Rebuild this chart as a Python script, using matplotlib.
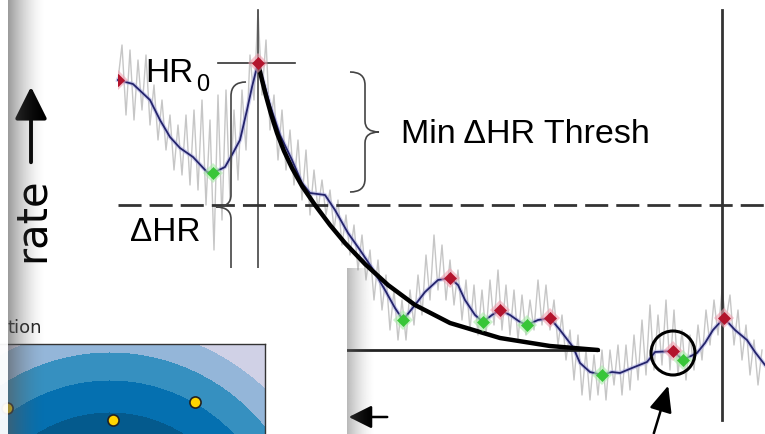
import numpy as np
import matplotlib
matplotlib.use("Agg")
import matplotlib.pyplot as plt
from matplotlib.patches import Rectangle, PathPatch, Circle
from matplotlib.path import Path

W, H = 765, 434

# ── data (pixel-like units, y down) ──────────────────────────
raw_x = np.arange(118, 763, 4)
raw_y = [80, 45, 115, 50, 120, 60, 110, 55, 125, 85,
         140, 100, 150, 115, 170, 125, 175, 115, 185, 110,
         190, 100, 205, 120, 250, 95, 220, 90, 200, 110,
         180, 90, 150, 55, 100, 10, 95, 40, 130, 95,
         160, 110, 170, 130, 185, 140, 200, 150, 215, 170,
         210, 180, 215, 190, 230, 200, 245, 215, 255, 225,
         270, 235, 280, 250, 300, 260, 310, 275, 330, 290,
         340, 300, 340, 290, 325, 275, 315, 255, 300, 235,
         290, 245, 300, 260, 305, 270, 320, 280, 330, 285,
         335, 290, 335, 280, 325, 270, 330, 285, 335, 290,
         340, 295, 335, 300, 330, 280, 325, 285, 330, 300,
         345, 315, 360, 330, 380, 335, 395, 350, 400, 355,
         395, 350, 400, 350, 385, 345, 395, 345, 390, 335,
         380, 320, 375, 305, 370, 315, 365, 300, 370, 310,
         375, 330, 380, 335, 370, 325, 360, 310, 345, 300,
         335, 290, 320, 295, 345, 310, 360, 325, 375, 340,
         385, 350]

smooth_x = [118, 133, 150, 160, 170, 180, 193, 207, 213, 225, 233, 240, 247, 252, 258,
            263, 270, 280, 292, 302, 310, 325, 335, 348, 360, 372, 385, 395, 403,
            415, 425, 438, 450, 458, 465, 475, 483, 492, 500, 510, 520, 527, 538, 550,
            560, 573, 580, 590, 602, 612, 620, 632, 647, 655, 673, 683, 697, 705, 713, 724,
            735, 747, 755, 765]
smooth_y = [80, 84, 100, 120, 137, 148, 157, 172, 173, 167, 153, 140, 110, 87, 63,
            80, 105, 135, 160, 183, 193, 195, 210, 233, 250, 268, 290, 308, 320,
            305, 292, 280, 278, 285, 300, 315, 322, 315, 310, 315, 322, 325, 320, 318,
            330, 347, 363, 372, 375, 372, 373, 368, 362, 352, 351, 360, 353, 343, 330, 318,
            330, 340, 352, 365]

peak_x = [118, 258, 450, 500, 550, 673, 724]
peak_y = [80, 63, 278, 310, 318, 351, 318]
trough_x = [213, 403, 483, 527, 602, 683]
trough_y = [173, 320, 322, 325, 375, 360]

decay_x = [258, 262, 266, 271, 277, 284, 292, 302, 315, 330, 345, 365, 388, 415, 450, 500, 550, 598]
decay_y = [63, 80, 96, 114, 133, 151, 168, 186, 205, 225, 243, 264, 285, 305, 323, 338, 346, 350]

hr0_y = 63
thresh_y = 205
floor_y = 350
onset_x = 258
next_x = 722

# inset contour panel
ring_center = (110, 552)
ring_levels = [0, 140, 172, 200, 226, 2000]
ring_colors = ["#045a8d", "#0570b0", "#3690c0", "#94b6d9", "#d0d1e6"]
dot_x = [195, 113, 7]
dot_y = [402, 420, 408]

LABEL_FONT = ["Liberation Sans", "DejaVu Sans"]

# ── figure ───────────────────────────────────────────────────
fig = plt.figure(figsize=(W / 100, H / 100), dpi=100)
fig.patch.set_facecolor("white")
ax = fig.add_axes([0, 0, 1, 1])
ax.set_xlim(0, W)
ax.set_ylim(H, 0)
ax.axis("off")

ax.plot(raw_x, raw_y, color="#c6c6c6", lw=1.0, zorder=1)
ax.plot(smooth_x, smooth_y, color="#a8a8e0", lw=3.0, alpha=0.55, zorder=2)
ax.plot(smooth_x, smooth_y, color="#23236b", lw=1.3, zorder=3)

# reference lines
ax.plot([218, 295], [hr0_y, hr0_y], color="#333333", lw=1.2, zorder=4)
ax.plot([onset_x, onset_x], [10, 300], color="#444444", lw=1.2, zorder=4)
ax.plot([next_x, next_x], [10, 420], color="#333333", lw=2.0, zorder=4)
ax.plot([118, W], [thresh_y, thresh_y], color="#333333", lw=2.0,
        dashes=(8.3, 2.9), zorder=4)
ax.plot([300, 598], [floor_y, floor_y], color="#222222", lw=2.0, zorder=4)

ax.plot(decay_x, decay_y, color="black", lw=3.2, solid_capstyle="round", zorder=5)

clip = Rectangle((118, 0), W, H, transform=ax.transData)
for xs, ys, core, halo in [(peak_x, peak_y, "#b3142d", "#f0a0b0"),
                           (trough_x, trough_y, "#38c638", "#a8eca8")]:
    h, = ax.plot(xs, ys, "D", ms=10, color=halo, alpha=0.6, mew=0, zorder=6)
    c, = ax.plot(xs, ys, "D", ms=6, mfc=core, mec=core, mew=0.5, zorder=7)
    h.set_clip_path(clip)
    c.set_clip_path(clip)

# braces
MV, C3, LN = Path.MOVETO, Path.CURVE3, Path.LINETO
right_brace = Path([(350, 72), (365, 72), (365, 85), (365, 121),
                    (365, 132), (379, 132), (365, 132), (365, 143),
                    (365, 179), (365, 192), (350, 192)],
                   [MV, C3, C3, LN, C3, C3, C3, C3, LN, C3, C3])
left_brace = Path([(246, 82), (231, 82), (231, 96), (231, 195),
                   (231, 207), (216, 207), (231, 207), (231, 219),
                   (231, 300)],
                  [MV, C3, C3, LN, C3, C3, C3, C3, LN])
for p in (right_brace, left_brace):
    ax.add_patch(PathPatch(p, fill=False, lw=1.2, ec="#444444", zorder=4))

# labels
ax.text(145, 82, "HR", fontsize=24, family=LABEL_FONT, va="baseline", zorder=8)
ax.text(196, 91, "0", fontsize=17, family=LABEL_FONT, va="baseline", zorder=8)
ax.text(130, 241, "ΔHR", fontsize=24, family=LABEL_FONT, va="baseline", zorder=8)
ax.text(401, 143, "Min ΔHR Thresh", fontsize=24.5, family=LABEL_FONT,
        va="baseline", zorder=8)
ax.text(32, 220, "rate", fontsize=30, rotation=90, ha="center", va="center",
        family="DejaVu Sans", zorder=8)
ax.annotate("", xy=(31, 84), xytext=(31, 165),
            arrowprops=dict(arrowstyle="-|>,head_length=0.9,head_width=0.45",
                            lw=2.8, color="black", mutation_scale=22), zorder=8)

# circled event + pointer arrows
ax.add_patch(Circle((673, 353), 22, fill=False, lw=2.2, ec="black", zorder=8))
ax.annotate("", xy=(669, 383), xytext=(653, 436),
            arrowprops=dict(arrowstyle="-|>,head_length=0.8,head_width=0.35",
                            lw=1.8, color="black", mutation_scale=20), zorder=8)
ax.annotate("", xy=(346, 417), xytext=(390, 417),
            arrowprops=dict(arrowstyle="-|>,head_length=0.7,head_width=0.35",
                            lw=1.8, color="black", mutation_scale=20), zorder=8)

# white inset panel
ax.add_patch(Rectangle((0, 268), 347, H - 268, fc="white", ec="none", zorder=10))
ax.text(8, 333, "tion", fontsize=13, family="DejaVu Sans", va="baseline",
        color="#222222", zorder=11)

# ── inset contour plot ───────────────────────────────────────
ins = fig.add_axes([0, 0, 265 / W, (H - 344) / H])
ins.set_zorder(2)
gx, gy = np.meshgrid(np.linspace(0, 265, 400), np.linspace(344, H, 160))
dist = np.hypot(gx - ring_center[0], gy - ring_center[1])
ins.contourf(gx, gy, dist, levels=ring_levels, colors=ring_colors)
ins.plot(dot_x, dot_y, "o", ms=8, mfc="#ffd500", mec="#222222", mew=1.2)
ins.set_xlim(0, 265)
ins.set_ylim(H, 344)
ins.set_xticks([])
ins.set_yticks([])
for s in ("left", "bottom"):
    ins.spines[s].set_visible(False)
for s in ("top", "right"):
    ins.spines[s].set_linewidth(1.0)
    ins.spines[s].set_color("#333333")

# ── shadow overlays ──────────────────────────────────────────
ov = fig.add_axes([0, 0, 1, 1])
ov.set_zorder(3)
ov.axis("off")

ov.add_patch(Rectangle((0, 0), 8, H, fc="white", ec="none", alpha=0.95))
band = np.zeros((1, 37, 4))
for j in range(37):
    band[0, j] = (0.35, 0.35, 0.35, 0.6 * (1 - j / 37) ** 1.6)
ov.imshow(band, extent=(8, 45, H, 0), aspect="auto", interpolation="bilinear")

side = np.zeros((1, 28, 4))
for j in range(28):
    side[0, j] = (0.4, 0.4, 0.4, 0.45 * (1 - j / 28) ** 1.6)
ov.imshow(side, extent=(347, 375, H, 268), aspect="auto", interpolation="bilinear")
ov.set_xlim(0, W)
ov.set_ylim(H, 0)

fig.savefig("out.png", dpi=100, facecolor="white")
